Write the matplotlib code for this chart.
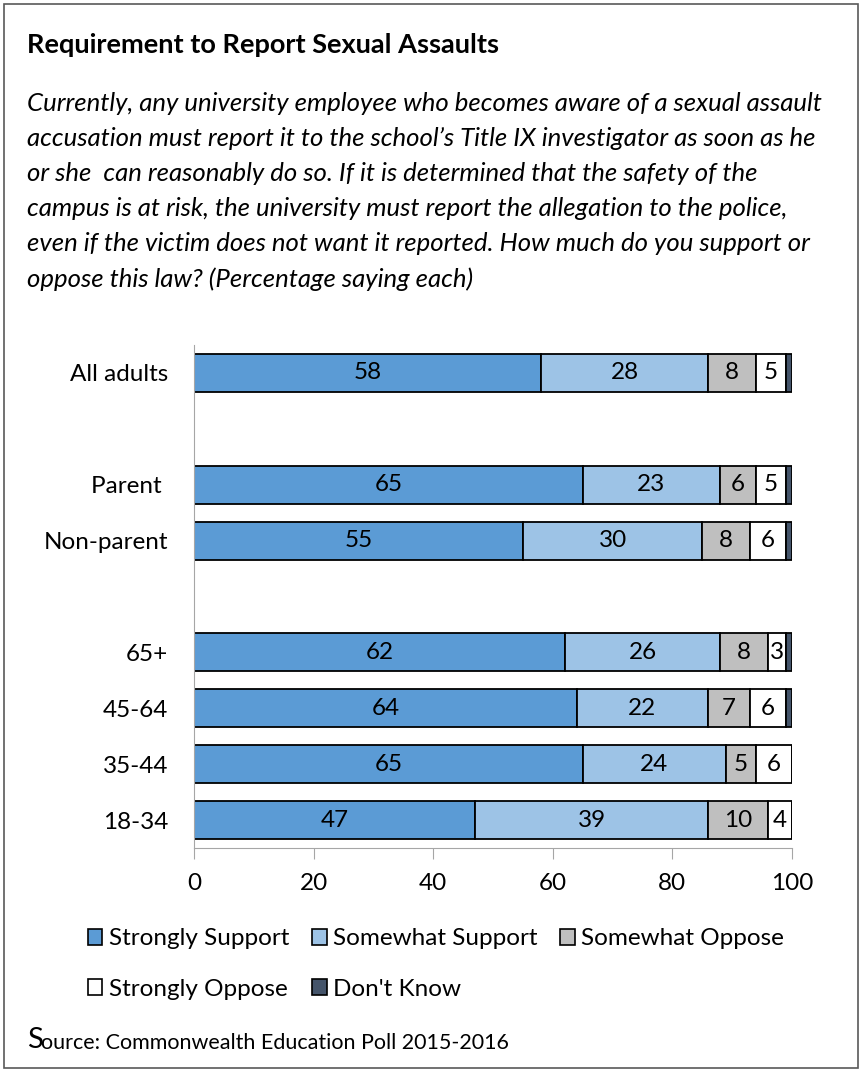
import matplotlib.pyplot as plt
from matplotlib.patches import Rectangle, Patch

plt.rcParams['font.family'] = ['Lato', 'DejaVu Sans']

# Data
groups = [["All adults"], ["Parent ", "Non-parent"], ["65+", "45-64", "35-44", "18-34"]]
strongly_support = [58, 65, 55, 62, 64, 65, 47]
somewhat_support = [28, 23, 30, 26, 22, 24, 39]
somewhat_oppose = [8, 6, 8, 8, 7, 5, 10]
strongly_oppose = [5, 5, 6, 3, 6, 6, 4]
dont_know = [1, 1, 1, 1, 1, 0, 0]
series_names = ["Strongly Support", "Somewhat Support", "Somewhat Oppose",
                "Strongly Oppose", "Don't Know"]
colors = ["#5b9bd5", "#9dc3e6", "#bfbfbf", "#ffffff", "#44546a"]

# y slots, with one empty slot between groups
labels = []
ypos = []
slot = 0
for g in groups:
    for name in g:
        labels.append(name)
        ypos.append(slot)
        slot += 1
    slot += 1
n_slots = slot - 1

fig = plt.figure(figsize=(8.62, 10.72), dpi=100)
fig.patches.append(Rectangle((4 / 862, 4 / 1072), 854 / 862, 1064 / 1072,
                             transform=fig.transFigure, fill=False,
                             edgecolor="#595959", linewidth=1.2))

fig.text(27 / 862, 1 - 45 / 1072, "Requirement to Report Sexual Assaults",
         fontsize=19.5, fontweight="bold", va="center", ha="left")
question = ("Currently, any university employee who becomes aware of a sexual assault\n"
            "accusation must report it to the school\u2019s Title IX investigator as soon as he\n"
            "or she  can reasonably do so. If it is determined that the safety of the\n"
            "campus is at risk, the university must report the allegation to the police,\n"
            "even if the victim does not want it reported. How much do you support or\n"
            "oppose this law? (Percentage saying each)")
fig.text(27 / 862, 1 - 92 / 1072, question, fontsize=18.5, fontstyle="italic",
         va="top", ha="left", linespacing=1.63)

ax = fig.add_axes([194 / 862, 1 - 848 / 1072, 598 / 862, 503 / 1072])
series = [strongly_support, somewhat_support, somewhat_oppose, strongly_oppose, dont_know]
left = [0] * len(labels)
for i, vals in enumerate(series):
    ax.barh(ypos, vals, left=left, height=0.68, color=colors[i],
            edgecolor="black", linewidth=1.3, label=series_names[i])
    if i < 4:
        for y, l, v in zip(ypos, left, vals):
            ax.text(l + v / 2, y, str(v), ha="center", va="center", fontsize=17.5)
    left = [a + b for a, b in zip(left, vals)]

ax.set_xlim(0, 100)
ax.set_ylim(n_slots - 0.5, -0.5)
ax.set_yticks(ypos)
ax.set_yticklabels(labels, fontsize=17.5)
ax.tick_params(axis="y", length=0, pad=18.5)
ax.set_xticks([0, 20, 40, 60, 80, 100])
ax.tick_params(axis="x", labelsize=17.5, length=8, color="#a6a6a6", pad=10, direction="out")
for s in ["top", "right"]:
    ax.spines[s].set_visible(False)
ax.spines["left"].set_color("#a6a6a6")
ax.spines["bottom"].set_color("#a6a6a6")

# legend filled column by column, so reorder to read row by row
order = [0, 3, 1, 4, 2]
handles = [Patch(facecolor=colors[k], edgecolor="black", linewidth=1.2) for k in order]
fig.legend(handles, [series_names[k] for k in order], loc="center left", ncol=3,
           frameon=False, bbox_to_anchor=(66 / 862, 1 - 964 / 1072), fontsize=17.5,
           handlelength=0.6, handleheight=0.6, handletextpad=0.25,
           columnspacing=0.95, labelspacing=1.2)

fig.text(27 / 862, 1 - 1040 / 1072, "S", fontsize=21, va="center", ha="left")
fig.text(41 / 862, 1 - 1043 / 1072, "ource: Commonwealth Education Poll 2015-2016",
         fontsize=15.5, va="center", ha="left")

fig.savefig("out.png", dpi=100)
